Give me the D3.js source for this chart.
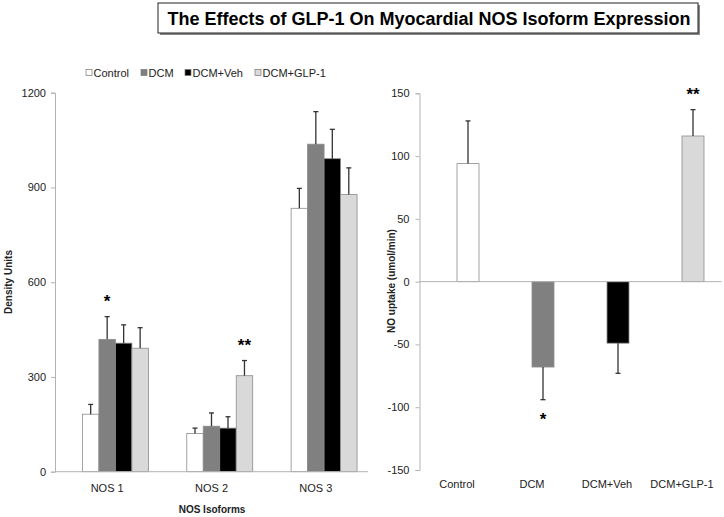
<!DOCTYPE html>
<html>
<head>
<meta charset="utf-8">
<script src="https://cdn.jsdelivr.net/npm/d3@7.9.0/dist/d3.min.js"></script>
<style>
  body { margin: 0; background: #fff; }
  svg { display: block; font-family: Arial, "Liberation Sans", sans-serif; }
</style>
</head>
<body>
<svg id="chart" width="724" height="517"></svg>
<script>
// ---- data ----
const series = ['Control', 'DCM', 'DCM+Veh', 'DCM+GLP-1'];
const colors = ['#ffffff', '#808080', '#000000', '#d9d9d9'];
const isoforms = ['NOS 1', 'NOS 2', 'NOS 3'];
const density = [
    [182, 419, 407, 391],
    [121, 144, 138, 304],
    [834, 1037, 991, 878]
];
const densityErr = [
    [31, 72, 58, 65],
    [17, 42, 36, 48],
    [63, 103, 93, 84]
];
const densityStars = [[0, 1, '*'], [1, 3, '**']];
const densityTicks = [0, 300, 600, 900, 1200];

const uptake = [94, -68, -49, 116];
const uptakeErr = [34, 26, 24, 21];
const uptakeStars = [[1, '*'], [3, '**']];
const uptakeTicks = [-150, -100, -50, 0, 50, 100, 150];

const svg = d3.select('#chart');
const axisColor = '#b3b3b3';
const errColor = '#333';
const plainNum = d => String(d);

// ---- title ----
const title = svg.append('g');
title.append('rect').attr('x', 160).attr('y', 5).attr('width', 540).attr('height', 30).attr('fill', '#888');
title.append('rect').attr('x', 158).attr('y', 3).attr('width', 540).attr('height', 30)
    .attr('fill', '#fff').attr('stroke', '#222').attr('stroke-width', 1);
title.append('text').attr('x', 429).attr('y', 25).attr('text-anchor', 'middle')
    .attr('font-size', 18).attr('font-weight', 'bold').attr('fill', '#000')
    .text('The Effects of GLP-1 On Myocardial NOS Isoform Expression');

// ---- left chart ----
const L = { left: 55, right: 368, top: 92.7, bottom: 471.7 };
const x0 = d3.scaleBand().domain(isoforms).range([L.left, L.right]);
const groupW = x0.bandwidth() * 0.79;
const x1 = d3.scaleBand().domain(['', ...series]).range([-groupW / 2, groupW / 2]);
const yL = d3.scaleLinear().domain([0, 1200]).range([L.bottom, L.top]);

const yAxisL = svg.append('g').attr('transform', `translate(${L.left},0)`)
    .call(d3.axisLeft(yL).tickValues(densityTicks).tickFormat(plainNum).tickSize(4).tickPadding(5));
yAxisL.select('.domain').attr('stroke', axisColor);
yAxisL.selectAll('.tick line').attr('stroke', axisColor);
yAxisL.selectAll('.tick text').attr('font-size', 11).attr('fill', '#222').attr('font-family', 'Arial, "Liberation Sans", sans-serif');

const rows = [];
isoforms.forEach((iso, i) => series.forEach((s, j) => rows.push({ iso, s, j, v: density[i][j], e: densityErr[i][j] })));
const barL = d => x0(d.iso) + x0.bandwidth() / 2 + x1(d.s);

const gL = svg.append('g');
gL.selectAll('rect').data(rows).join('rect')
    .attr('x', barL)
    .attr('y', d => yL(d.v))
    .attr('width', x1.bandwidth())
    .attr('height', d => yL(0) - yL(d.v))
    .attr('fill', d => colors[d.j])
    .attr('stroke', '#8c8c8c').attr('stroke-width', 0.8);

const errL = svg.append('g').attr('stroke', errColor).attr('stroke-width', 1.3);
errL.selectAll('line.v').data(rows).join('line').attr('class', 'v')
    .attr('x1', d => barL(d) + x1.bandwidth() / 2)
    .attr('x2', d => barL(d) + x1.bandwidth() / 2)
    .attr('y1', d => yL(d.v)).attr('y2', d => yL(d.v + d.e));
errL.selectAll('line.c').data(rows).join('line').attr('class', 'c')
    .attr('x1', d => barL(d) + x1.bandwidth() / 2 - 2.5)
    .attr('x2', d => barL(d) + x1.bandwidth() / 2 + 2.5)
    .attr('y1', d => yL(d.v + d.e)).attr('y2', d => yL(d.v + d.e));

// baseline
svg.append('line').attr('x1', L.left).attr('x2', L.right).attr('y1', yL(0)).attr('y2', yL(0))
    .attr('stroke', axisColor);

svg.append('g').selectAll('text').data(isoforms).join('text')
    .attr('x', d => x0(d) + x0.bandwidth() / 2).attr('y', 492)
    .attr('text-anchor', 'middle').attr('font-size', 11).attr('fill', '#222').text(d => d);

svg.append('g').selectAll('text').data(densityStars).join('text')
    .attr('x', d => x0(isoforms[d[0]]) + x0.bandwidth() / 2 + x1(series[d[1]]) + x1.bandwidth() / 2)
    .attr('y', d => yL(density[d[0]][d[1]] + densityErr[d[0]][d[1]]) - 10)
    .attr('text-anchor', 'middle').attr('font-size', 17).attr('font-weight', 'bold').text(d => d[2]);

svg.append('text').attr('x', 212).attr('y', 513).attr('text-anchor', 'middle')
    .attr('font-size', 10).attr('font-weight', 'bold').attr('fill', '#222').text('NOS Isoforms');
svg.append('text').attr('transform', 'translate(12,282) rotate(-90)').attr('text-anchor', 'middle')
    .attr('font-size', 10).attr('font-weight', 'bold').attr('fill', '#222').text('Density Units');

// legend
const legendX = [86, 141, 185, 255];
const leg = svg.append('g').selectAll('g').data(series).join('g')
    .attr('transform', (d, i) => `translate(${legendX[i]},72.5)`);
leg.append('rect').attr('x', 0).attr('y', -3).attr('width', 6).attr('height', 6)
    .attr('fill', (d, i) => colors[i]).attr('stroke', '#777').attr('stroke-width', 0.7);
leg.append('text').attr('x', 7.5).attr('y', 4).attr('font-size', 11).attr('fill', '#222').text(d => d);

// ---- right chart ----
const R = { left: 419.5, right: 719.5, top: 93.3, bottom: 470 };
const xR = d3.scaleBand().domain(series).range([R.left, R.right]);
const slotW = 22;
const yR = d3.scaleLinear().domain([-150, 150]).range([R.bottom, R.top]);

const yAxisR = svg.append('g').attr('transform', `translate(${R.left},0)`)
    .call(d3.axisLeft(yR).tickValues(uptakeTicks).tickFormat(plainNum).tickSize(4).tickPadding(6));
yAxisR.select('.domain').attr('stroke', axisColor);
yAxisR.selectAll('.tick line').attr('stroke', axisColor);
yAxisR.selectAll('.tick text').attr('font-size', 11).attr('fill', '#222').attr('font-family', 'Arial, "Liberation Sans", sans-serif');

const rowsR = series.map((s, j) => ({ s, j, v: uptake[j], e: uptakeErr[j] }));
const barX = d => xR(d.s) + xR.bandwidth() / 2;

svg.append('g').selectAll('rect').data(rowsR).join('rect')
    .attr('x', barX)
    .attr('y', d => yR(Math.max(0, d.v)))
    .attr('width', slotW)
    .attr('height', d => Math.abs(yR(d.v) - yR(0)))
    .attr('fill', d => colors[d.j])
    .attr('stroke', '#8c8c8c').attr('stroke-width', 0.8);

svg.append('line').attr('x1', R.left).attr('x2', R.right + 2).attr('y1', yR(0)).attr('y2', yR(0))
    .attr('stroke', axisColor);

const endR = d => d.v + Math.sign(d.v) * d.e;
const errR = svg.append('g').attr('stroke', errColor).attr('stroke-width', 1.3);
errR.selectAll('line.v').data(rowsR).join('line').attr('class', 'v')
    .attr('x1', d => barX(d) + slotW / 2).attr('x2', d => barX(d) + slotW / 2)
    .attr('y1', d => yR(d.v)).attr('y2', d => yR(endR(d)));
errR.selectAll('line.c').data(rowsR).join('line').attr('class', 'c')
    .attr('x1', d => barX(d) + slotW / 2 - 2.5).attr('x2', d => barX(d) + slotW / 2 + 2.5)
    .attr('y1', d => yR(endR(d))).attr('y2', d => yR(endR(d)));

svg.append('g').selectAll('text').data(series).join('text')
    .attr('x', d => xR(d) + xR.bandwidth() / 2).attr('y', 488)
    .attr('text-anchor', 'middle').attr('font-size', 11).attr('fill', '#222').text(d => d);

svg.append('g').selectAll('text').data(uptakeStars).join('text')
    .attr('x', d => barX(rowsR[d[0]]) + slotW / 2)
    .attr('y', d => {
        const r = rowsR[d[0]];
        return r.v > 0 ? yR(endR(r)) - 10 : yR(endR(r)) + 25;
    })
    .attr('text-anchor', 'middle').attr('font-size', 17).attr('font-weight', 'bold').text(d => d[1]);

svg.append('text').attr('transform', 'translate(395,281) rotate(-90)').attr('text-anchor', 'middle')
    .attr('font-size', 10).attr('font-weight', 'bold').attr('fill', '#222').text('NO uptake (umol/min)');
</script>
</body>
</html>
